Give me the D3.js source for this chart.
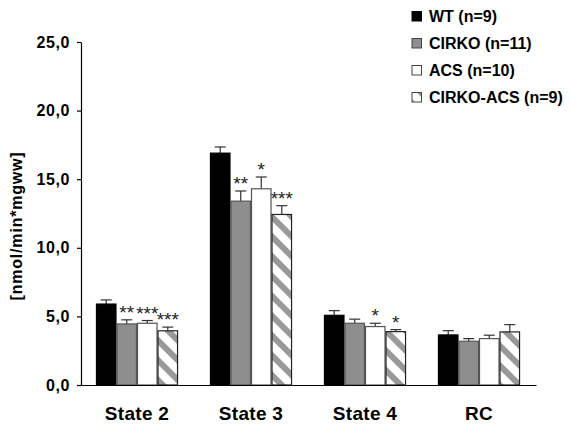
<!DOCTYPE html>
<html>
<head>
<meta charset="utf-8">
<script src="https://cdn.jsdelivr.net/npm/d3@7"></script>
<style>
  body { margin: 0; background: #fff; }
  svg { display: block; }
  text { font-family: "Liberation Sans", Arial, sans-serif; }
</style>
</head>
<body>
<svg id="chart" width="571" height="426"></svg>
<script>
const categories = ["State 2", "State 3", "State 4", "RC"];
const seriesNames = ["WT (n=9)", "CIRKO (n=11)", "ACS (n=10)", "CIRKO-ACS (n=9)"];
const wtValues       = [5.9, 16.9, 5.08, 3.65];
const wtErrors       = [0.3, 0.45, 0.34, 0.31];
const cirkoValues    = [4.45, 13.4, 4.5, 3.19];
const cirkoErrors    = [0.3, 0.74, 0.3, 0.19];
const acsValues      = [4.5, 14.3, 4.26, 3.38];
const acsErrors      = [0.2, 0.86, 0.24, 0.25];
const cirkoAcsValues = [3.95, 12.43, 3.89, 3.87];
const cirkoAcsErrors = [0.27, 0.64, 0.15, 0.53];
const wtStars        = ["", "", "", ""];
const cirkoStars     = ["**", "**", "", ""];
const acsStars       = ["***", "*", "*", ""];
const cirkoAcsStars  = ["***", "***", "*", ""];
const yTicks = [0, 5, 10, 15, 20, 25];

const seriesValues = [wtValues, cirkoValues, acsValues, cirkoAcsValues];
const seriesErrors = [wtErrors, cirkoErrors, acsErrors, cirkoAcsErrors];
const seriesStars = [wtStars, cirkoStars, acsStars, cirkoAcsStars];

const svg = d3.select("#chart");
const defs = svg.append("defs");
const pat = defs.append("pattern")
  .attr("id", "hatch").attr("patternUnits", "userSpaceOnUse")
  .attr("width", 14).attr("height", 14)
  .attr("patternTransform", "rotate(45)");
pat.append("rect").attr("width", 14).attr("height", 14).attr("fill", "#fff");
pat.append("rect").attr("x", 0).attr("y", 0).attr("width", 14).attr("height", 6).attr("fill", "#999");

const fills = ["#000", "#8e8e8e", "#fff", "url(#hatch)"];
const strokes = ["#000", "#555", "#555", "#222"];

const x0 = d3.scaleBand().domain(categories).range([80, 536]).paddingInner(0.28).paddingOuter(0.14);
const x1 = d3.scaleBand().domain(d3.range(seriesNames.length)).range([0, x0.bandwidth()]).padding(0);
const y = d3.scaleLinear().domain([0, 25]).range([385, 42]);

const fmt = v => d3.format(".1f")(v).replace(".", ",");

const rows = [];
categories.forEach((c, ci) => {
  seriesNames.forEach((s, si) => {
    rows.push({c, si, v: seriesValues[si][ci], e: seriesErrors[si][ci], star: seriesStars[si][ci]});
  });
});

const g = svg.append("g");
const eb = g.selectAll(".err").data(rows).join("g");
eb.append("line")
  .attr("x1", d => x0(d.c) + x1(d.si) + x1.bandwidth() / 2)
  .attr("x2", d => x0(d.c) + x1(d.si) + x1.bandwidth() / 2)
  .attr("y1", d => y(d.v)).attr("y2", d => y(d.v + d.e))
  .attr("stroke", "#333").attr("stroke-width", 1.2);
eb.append("line")
  .attr("x1", d => x0(d.c) + x1(d.si) + x1.bandwidth() / 2 - 5.5)
  .attr("x2", d => x0(d.c) + x1(d.si) + x1.bandwidth() / 2 + 5.5)
  .attr("y1", d => y(d.v + d.e)).attr("y2", d => y(d.v + d.e))
  .attr("stroke", "#333").attr("stroke-width", 1.2);

g.selectAll(".bar").data(rows).join("rect")
  .attr("x", d => x0(d.c) + x1(d.si) + 0.5)
  .attr("y", d => y(d.v))
  .attr("width", x1.bandwidth() - 1)
  .attr("height", d => y(0) - y(d.v))
  .attr("fill", d => fills[d.si])
  .attr("stroke", d => strokes[d.si])
  .attr("stroke-width", 1.2);

g.selectAll(".star").data(rows.filter(d => d.star)).join("text")
  .attr("x", d => x0(d.c) + x1(d.si) + x1.bandwidth() / 2)
  .attr("y", d => y(d.v + d.e) - 1)
  .attr("text-anchor", "middle")
  .attr("font-size", 19)
  .attr("fill", "#222")
  .text(d => d.star);

const yAxis = d3.axisLeft(y).tickValues(yTicks).tickFormat(fmt).tickSize(4).tickSizeOuter(0);
const ya = svg.append("g").attr("transform", "translate(81,0)").call(yAxis);
ya.select(".domain").attr("stroke", "#000").attr("stroke-width", 1.2);
ya.selectAll(".tick line").attr("stroke", "#000").attr("stroke-width", 1.2);
ya.selectAll(".tick text").attr("font-size", 16).attr("font-weight", "bold")
  .attr("font-family", "Liberation Sans, Arial, sans-serif").attr("fill", "#000").attr("x", -11)
  .attr("letter-spacing", 0.6);

const xa = svg.append("g").attr("transform", "translate(0,385)")
  .call(d3.axisBottom(x0).tickSize(0).tickSizeOuter(0));
xa.select(".domain").attr("stroke", "#000").attr("stroke-width", 1.2);
xa.selectAll(".tick text").attr("font-size", 19).attr("font-weight", "bold")
  .attr("font-family", "Liberation Sans, Arial, sans-serif").attr("fill", "#000")
  .attr("dy", 0).attr("y", 35).attr("letter-spacing", 0.3);

svg.append("text")
  .attr("transform", "translate(22,226) rotate(-90)")
  .attr("text-anchor", "middle")
  .attr("font-size", 16).attr("font-weight", "bold")
  .attr("letter-spacing", 0.8)
  .text("[nmol/min*mgww]");

const leg = svg.append("g").attr("transform", "translate(412,0)");
const legY = [16, 43, 70, 97];
seriesNames.forEach((s, i) => {
  leg.append("rect").attr("x", 0).attr("y", legY[i] - 4.5).attr("width", 9.5).attr("height", 9.5)
    .attr("fill", fills[i]).attr("stroke", i === 0 ? "#000" : "#444").attr("stroke-width", 1);
  leg.append("text").attr("x", 17).attr("y", legY[i] + 6)
    .attr("font-size", 16).attr("font-weight", "bold")
    .text(s);
});
</script>
</body>
</html>
